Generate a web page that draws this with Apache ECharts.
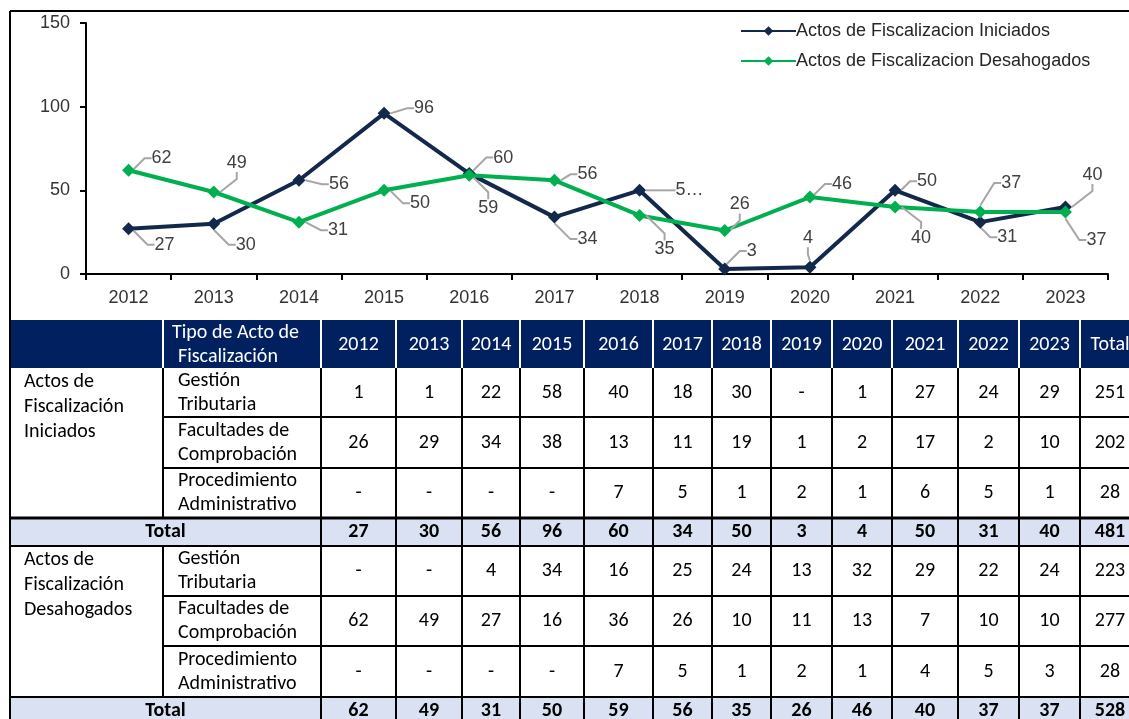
<!DOCTYPE html>
<html>
<head>
<meta charset="utf-8">
<script src="https://cdn.jsdelivr.net/npm/echarts@6/dist/echarts.min.js"></script>
<style>
  html, body { margin: 0; padding: 0; background: #fff; }
  #main { width: 1129px; height: 719px; }
</style>
</head>
<body>
<div id="main"></div>
<script>
  // datos
  var years = ['2012', '2013', '2014', '2015', '2016', '2017', '2018', '2019', '2020', '2021', '2022', '2023'];
  var seriesNames = ['Actos de Fiscalizacion Iniciados', 'Actos de Fiscalizacion Desahogados'];
  var iniciados = [27, 30, 56, 96, 60, 34, 50, 3, 4, 50, 31, 40];
  var desahogados = [62, 49, 31, 50, 59, 56, 35, 26, 46, 40, 37, 37];

  var iniGestion = [1, 1, 22, 58, 40, 18, 30, null, 1, 27, 24, 29];
  var iniFacultades = [26, 29, 34, 38, 13, 11, 19, 1, 2, 17, 2, 10];
  var iniProcedimiento = [null, null, null, null, 7, 5, 1, 2, 1, 6, 5, 1];
  var iniTotales = [251, 202, 28, 481];

  var desGestion = [null, null, 4, 34, 16, 25, 24, 13, 32, 29, 22, 24];
  var desFacultades = [62, 49, 27, 16, 36, 26, 10, 11, 13, 7, 10, 10];
  var desProcedimiento = [null, null, null, null, 7, 5, 1, 2, 1, 4, 5, 3];
  var desTotales = [223, 277, 28, 528];

  var tipos = [['Gestión', 'Tributaria'], ['Facultades de', 'Comprobación'], ['Procedimiento', 'Administrativo']];
  var grupos = [['Actos de', 'Fiscalización', 'Iniciados'], ['Actos de', 'Fiscalización', 'Desahogados']];

  // desplazamiento de etiquetas (px)
  var iniLabelOff = [[36, 16], [32, 21], [40, 4], [40, -5], [34, -16], [33, 22], [50, 0], [27, -18], [-2, -29], [32, -9], [27, 15], [27, -32]];
  var desLabelOff = [[33, -12], [23, -29], [39, 8], [36, 13], [19, 33], [33, -6], [25, 34], [15, -26], [32, -13], [26, 31], [31, -29], [31, 28]];

  var chartFont = '"Liberation Sans", Arial, sans-serif';
  var tableFont = 'Carlito, Lato, "Open Sans", sans-serif';

  // tabla
  var colX = [10, 163, 321, 396, 462, 520, 584, 653, 712, 771, 832, 892, 958, 1019, 1080, 1140];
  var rowY = [320, 368, 417, 468, 518, 546, 596, 646, 697, 725];

  function txt(s, x, y, opt) {
    opt = opt || {};
    var align = opt.align || 'center';
    return {
      type: 'text', z: 110, silent: true,
      style: {
        text: s, x: x, y: y,
        fill: opt.color || '#000',
        font: (opt.bold ? 'bold ' : '') + '20px ' + tableFont,
        textAlign: align, textVerticalAlign: 'middle',
        align: align, verticalAlign: 'middle'
      }
    };
  }
  function line(x1, y1, x2, y2, color, w) {
    return {
      type: 'line', z: 105, silent: true,
      shape: { x1: x1, y1: y1, x2: x2, y2: y2 },
      style: { stroke: color, lineWidth: w }
    };
  }
  function fmt(v) { return v === null ? '-' : String(v); }

  var g = [];
  // marco del grafico
  g.push(line(10, 11, 1129, 11, '#000', 2));
  g.push(line(10, 11, 10, 725, '#000', 2));

  // encabezado
  var right = colX[colX.length - 1];
  g.push({ type: 'rect', z: 100, silent: true, shape: { x: 11, y: rowY[0], width: right - 11, height: rowY[1] - rowY[0] }, style: { fill: '#002060' } });
  for (var i = 1; i < colX.length - 1; i++) {
    g.push(line(colX[i], rowY[0], colX[i], rowY[1], '#fff', 2));
  }
  g.push(txt('Tipo de Acto de', 172, 333, { align: 'left', color: '#fff' }));
  g.push(txt('Fiscalización', 178, 357, { align: 'left', color: '#fff' }));
  years.forEach(function (y, k) {
    g.push(txt(y, (colX[k + 2] + colX[k + 3]) / 2, 345, { color: '#fff' }));
  });
  g.push(txt('Total', (colX[14] + colX[15]) / 2, 345, { color: '#fff' }));

  var bloques = [
    { grupo: grupos[0], filas: [iniGestion, iniFacultades, iniProcedimiento], total: iniciados, rt: iniTotales, r0: 1 },
    { grupo: grupos[1], filas: [desGestion, desFacultades, desProcedimiento], total: desahogados, rt: desTotales, r0: 5 }
  ];
  bloques.forEach(function (b) {
    var top = rowY[b.r0], totTop = rowY[b.r0 + 3], totBot = rowY[b.r0 + 4];
    g.push({ type: 'rect', z: 100, silent: true, shape: { x: 11, y: totTop, width: right - 11, height: totBot - totTop }, style: { fill: '#D9E1F2' } });
    // lineas verticales
    for (var c = 0; c < colX.length; c++) {
      g.push(line(colX[c], top, colX[c], totTop, '#000', 2));
      if (c !== 1) g.push(line(colX[c], totTop, colX[c], totBot, '#000', 2));
    }
    // lineas horizontales
    g.push(line(colX[1], rowY[b.r0 + 1], right, rowY[b.r0 + 1], '#000', 2));
    g.push(line(colX[1], rowY[b.r0 + 2], right, rowY[b.r0 + 2], '#000', 2));
    g.push(line(colX[0], totTop, right, totTop, '#000', b.r0 === 1 ? 3 : 2));
    g.push(line(colX[0], totBot, right, totBot, '#000', 2));

    b.grupo.forEach(function (s, k) {
      g.push(txt(s, 24, top + 14 + k * 25, { align: 'left' }));
    });
    b.filas.forEach(function (fila, r) {
      var y0 = rowY[b.r0 + r], y1 = rowY[b.r0 + r + 1], mid = (y0 + y1) / 2;
      g.push(txt(tipos[r][0], 178, mid - 12, { align: 'left' }));
      g.push(txt(tipos[r][1], 178, mid + 12, { align: 'left' }));
      fila.forEach(function (v, k) {
        g.push(txt(fmt(v), (colX[k + 2] + colX[k + 3]) / 2, mid));
      });
      g.push(txt(String(b.rt[r]), (colX[14] + colX[15]) / 2, mid));
    });
    var tm = (totTop + totBot) / 2;
    g.push(txt('Total', (colX[0] + colX[2]) / 2, tm, { bold: true }));
    b.total.forEach(function (v, k) {
      g.push(txt(String(v), (colX[k + 2] + colX[k + 3]) / 2, tm, { bold: true }));
    });
    g.push(txt(String(b.rt[3]), (colX[14] + colX[15]) / 2, tm, { bold: true }));
  });

  var chartDom = document.getElementById('main');
  var myChart = echarts.init(chartDom);
  var option;

  var labelBase = {
    show: true,
    position: 'inside',
    fontFamily: chartFont,
    fontSize: 18,
    color: '#404040'
  };
  var guide = { show: true, length2: 7, lineStyle: { color: '#A6A6A6', width: 2 } };

  option = {
    animation: false,
    grid: { left: 86, right: 21, top: 23, bottom: 445 },
    legend: {
      orient: 'vertical',
      left: 735,
      top: 17,
      itemWidth: 55,
      itemHeight: 12,
      itemGap: 12,
      textStyle: { fontFamily: chartFont, fontSize: 18, color: '#262626', padding: [0, 0, 0, -5] },
      data: seriesNames
    },
    xAxis: {
      type: 'category',
      data: years,
      boundaryGap: true,
      axisLine: { lineStyle: { color: '#000', width: 2 } },
      axisTick: { show: true, length: 6, lineStyle: { color: '#000', width: 2 } },
      axisLabel: { margin: 15, fontFamily: chartFont, fontSize: 18, color: '#333' }
    },
    yAxis: {
      type: 'value',
      min: 0,
      max: 150,
      interval: 50,
      splitLine: { show: false },
      axisLine: { show: true, lineStyle: { color: '#000', width: 2 } },
      axisTick: { show: true, length: 6, lineStyle: { color: '#000', width: 2 } },
      axisLabel: { margin: 16, fontFamily: chartFont, fontSize: 18, color: '#333' }
    },
    series: [
      {
        name: seriesNames[0],
        type: 'line',
        data: iniciados.map(function (v, i) {
          // la etiqueta de 2018 aparece truncada en el original
          return i === 6 ? { value: v, label: { formatter: String(v).charAt(0) + '…' } } : v;
        }),
        symbol: 'diamond',
        symbolSize: 13,
        lineStyle: { color: '#13284B', width: 4 },
        itemStyle: { color: '#13284B' },
        label: labelBase,
        labelLine: guide,
        labelLayout: function (p) {
          var o = iniLabelOff[p.dataIndex];
          return { dx: o[0], dy: o[1] };
        }
      },
      {
        name: seriesNames[1],
        type: 'line',
        data: desahogados,
        symbol: 'diamond',
        symbolSize: 13,
        lineStyle: { color: '#00B050', width: 4 },
        itemStyle: { color: '#00B050' },
        label: labelBase,
        labelLine: guide,
        labelLayout: function (p) {
          var o = desLabelOff[p.dataIndex];
          return { dx: o[0], dy: o[1] };
        }
      }
    ],
    graphic: g
  };

  option && myChart.setOption(option);
</script>
</body>
</html>
